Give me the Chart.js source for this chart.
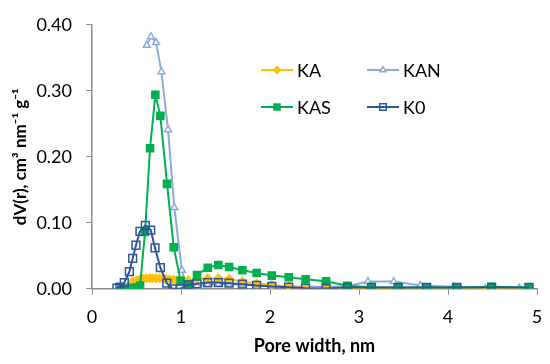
<!DOCTYPE html>
<html>
<head>
<meta charset="utf-8">
<script src="https://cdn.jsdelivr.net/npm/chart.js@4/dist/chart.umd.min.js"></script>
<style>
  html, body { margin: 0; padding: 0; background: #ffffff; }
  #wrap { width: 550px; height: 364px; }
</style>
</head>
<body>
<div id="wrap"><canvas id="psd" width="550" height="364"></canvas></div>
<script>
// pore width (nm) and dV(r) values
const kaX  = [0.39, 0.43, 0.46, 0.50, 0.54, 0.57, 0.61, 0.65, 0.68, 0.72, 0.76, 0.80, 0.83, 0.87, 0.91, 0.95, 0.98, 1.02, 1.08, 1.18, 1.30, 1.42, 1.54, 1.69, 1.85, 2.02, 2.21, 2.40, 2.63, 2.87, 3.14, 3.44, 3.76, 4.10, 4.49, 4.91];
const kaY  = [0.002, 0.007, 0.011, 0.013, 0.014, 0.015, 0.016, 0.016, 0.016, 0.016, 0.016, 0.015, 0.015, 0.014, 0.014, 0.013, 0.013, 0.013, 0.013, 0.015, 0.016, 0.016, 0.015, 0.011, 0.008, 0.006, 0.003, 0.001, 0.001, 0.001, 0.001, 0.001, 0.001, 0.001, 0.001, 0.001];

const kanX = [0.615, 0.663, 0.72, 0.78, 0.854, 0.925, 1.01, 1.06, 1.18, 1.30, 1.42, 1.54, 1.69, 1.85, 2.02, 2.21, 2.40, 2.63, 2.87, 3.10, 3.39, 3.69, 4.06, 4.42, 4.80];
const kanY = [0.369, 0.382, 0.373, 0.329, 0.241, 0.123, 0.028, 0.002, 0.004, 0.006, 0.007, 0.007, 0.006, 0.005, 0.004, 0.004, 0.003, 0.003, 0.004, 0.011, 0.011, 0.005, 0.003, 0.000, 0.001];

const kasX = [0.33, 0.40, 0.45, 0.50, 0.54, 0.596, 0.652, 0.712, 0.768, 0.843, 0.918, 0.996, 1.08, 1.18, 1.30, 1.42, 1.54, 1.69, 1.85, 2.02, 2.21, 2.40, 2.63, 2.87, 3.14, 3.44, 3.76, 4.10, 4.49, 4.91];
const kasY = [0.000, 0.001, 0.001, 0.002, 0.005, 0.086, 0.213, 0.294, 0.262, 0.159, 0.063, 0.012, 0.006, 0.021, 0.032, 0.036, 0.033, 0.028, 0.024, 0.020, 0.0175, 0.0145, 0.0115, 0.0045, 0.0025, 0.002, 0.002, 0.002, 0.003, 0.002];

const k0X  = [0.28, 0.315, 0.363, 0.42, 0.457, 0.494, 0.539, 0.599, 0.66, 0.708, 0.768, 0.84, 0.906, 0.99, 1.08, 1.18, 1.30, 1.42, 1.54, 1.69, 1.85, 2.02, 2.21, 2.40, 2.63, 2.87, 3.14, 3.44, 3.76, 4.10, 4.49, 4.91];
const k0Y  = [0.001, 0.0025, 0.0095, 0.026, 0.046, 0.066, 0.087, 0.096, 0.089, 0.062, 0.032, 0.0085, 0.000, 0.000, 0.006, 0.0075, 0.0095, 0.0095, 0.0085, 0.007, 0.005, 0.0035, 0.0025, 0.001, 0.0005, 0.002, 0.002, 0.002, 0.002, 0.002, 0.002, 0.002];

const seriesNames = ['KA', 'KAN', 'KAS', 'K0'];
const yTicks = [0, 0.1, 0.2, 0.3, 0.4];
const xTicks = [0, 1, 2, 3, 4, 5];

const FONT = 'Lato, "Open Sans", sans-serif';
const AXIS = '#8c8c8c';

const pts = (xs, ys) => xs.map((x, i) => ({ x: x, y: ys[i] }));

// legend drawn inside the plot, two columns like the original
const insideLegend = {
    id: 'insideLegend',
    afterDatasetsDraw(chart)
    {
        const ctx = chart.ctx;
        const cells = [
            { ds: 0, x: 261, y: 70 },
            { ds: 1, x: 367, y: 70 },
            { ds: 2, x: 261, y: 107 },
            { ds: 3, x: 367, y: 107 }
        ];
        ctx.save();
        cells.forEach(c =>
        {
            const d = chart.data.datasets[c.ds];
            ctx.strokeStyle = d.borderColor;
            ctx.lineWidth = 2;
            ctx.beginPath();
            ctx.moveTo(c.x, c.y);
            ctx.lineTo(c.x + 32, c.y);
            ctx.stroke();
            ctx.fillStyle = d.pointBackgroundColor;
            ctx.strokeStyle = d.pointBorderColor;
            ctx.lineWidth = d.pointBorderWidth;
            Chart.helpers.drawPoint(ctx, {
                pointStyle: d.pointStyle,
                radius: d.pointRadius * 0.85,
                borderWidth: d.pointBorderWidth,
                rotation: 0
            }, c.x + 16, c.y);
            ctx.fillStyle = '#000000';
            ctx.font = '18px ' + FONT;
            ctx.textBaseline = 'middle';
            ctx.textAlign = 'left';
            ctx.fillText(d.label, c.x + 36, c.y + 1);
        });
        ctx.restore();
    }
};

const makeSet = (label, xs, ys, color, style, radius, fill, order) => ({
    label: label,
    data: pts(xs, ys),
    borderColor: color,
    backgroundColor: color,
    borderWidth: 2,
    pointStyle: style,
    pointRadius: radius,
    pointBorderWidth: 1.5,
    pointBorderColor: color,
    pointBackgroundColor: fill,
    tension: 0,
    order: order
});

document.addEventListener('DOMContentLoaded', () =>
{
    const ctx = document.getElementById('psd').getContext('2d');
    new Chart(ctx, {
        type: 'line',
        data: {
            datasets: [
                makeSet(seriesNames[0], kaX, kaY, '#FFC000', 'rectRot', 4, '#FFC000', 2),
                makeSet(seriesNames[1], kanX, kanY, '#8EAADB', 'triangle', 4, '#ffffff', 3),
                makeSet(seriesNames[2], kasX, kasY, '#00B050', 'rect', 5, '#00B050', 1),
                makeSet(seriesNames[3], k0X, k0Y, '#2F5597', 'rect', 5.5, 'rgba(255,255,255,0)', 0)
            ]
        },
        options: {
            responsive: false,
            animation: false,
            layout: { padding: { left: 10, right: 13, top: 19, bottom: 7 } },
            plugins: {
                legend: { display: false },
                tooltip: { enabled: false }
            },
            scales: {
                x: {
                    type: 'linear',
                    min: 0,
                    max: 5,
                    afterBuildTicks: axis => { axis.ticks = xTicks.map(v => ({ value: v })); },
                    afterFit: s => { s.paddingLeft = 0; s.paddingRight = 0; },
                    grid: { display: true, drawOnChartArea: false, drawTicks: true, tickLength: 6, color: AXIS },
                    border: { display: true, color: AXIS, width: 1.5 },
                    ticks: { color: '#000000', font: { family: FONT, size: 18 }, padding: 12 },
                    title: {
                        display: true,
                        text: 'Pore width, nm',
                        color: '#000000',
                        font: { family: FONT, size: 18, weight: 'bold' },
                        padding: { top: -5, bottom: 0 }
                    }
                },
                y: {
                    min: 0,
                    max: 0.4,
                    afterBuildTicks: axis => { axis.ticks = yTicks.map(v => ({ value: v })); },
                    afterFit: s => { s.width = 82; },
                    grid: { display: true, drawOnChartArea: false, drawTicks: true, tickLength: 6, color: AXIS },
                    border: { display: true, color: AXIS, width: 1.5 },
                    ticks: {
                        color: '#000000',
                        font: { family: FONT, size: 18 },
                        padding: 14,
                        callback: v => v.toFixed(2)
                    },
                    title: {
                        display: true,
                        text: 'dV(r), cm\u00B3 nm\u207B\u00B9 g\u207B\u00B9',
                        color: '#000000',
                        font: { family: FONT, size: 17, weight: 'bold' },
                        padding: { top: 0, bottom: 0 }
                    }
                }
            }
        },
        plugins: [insideLegend]
    });
});
</script>
</body>
</html>
